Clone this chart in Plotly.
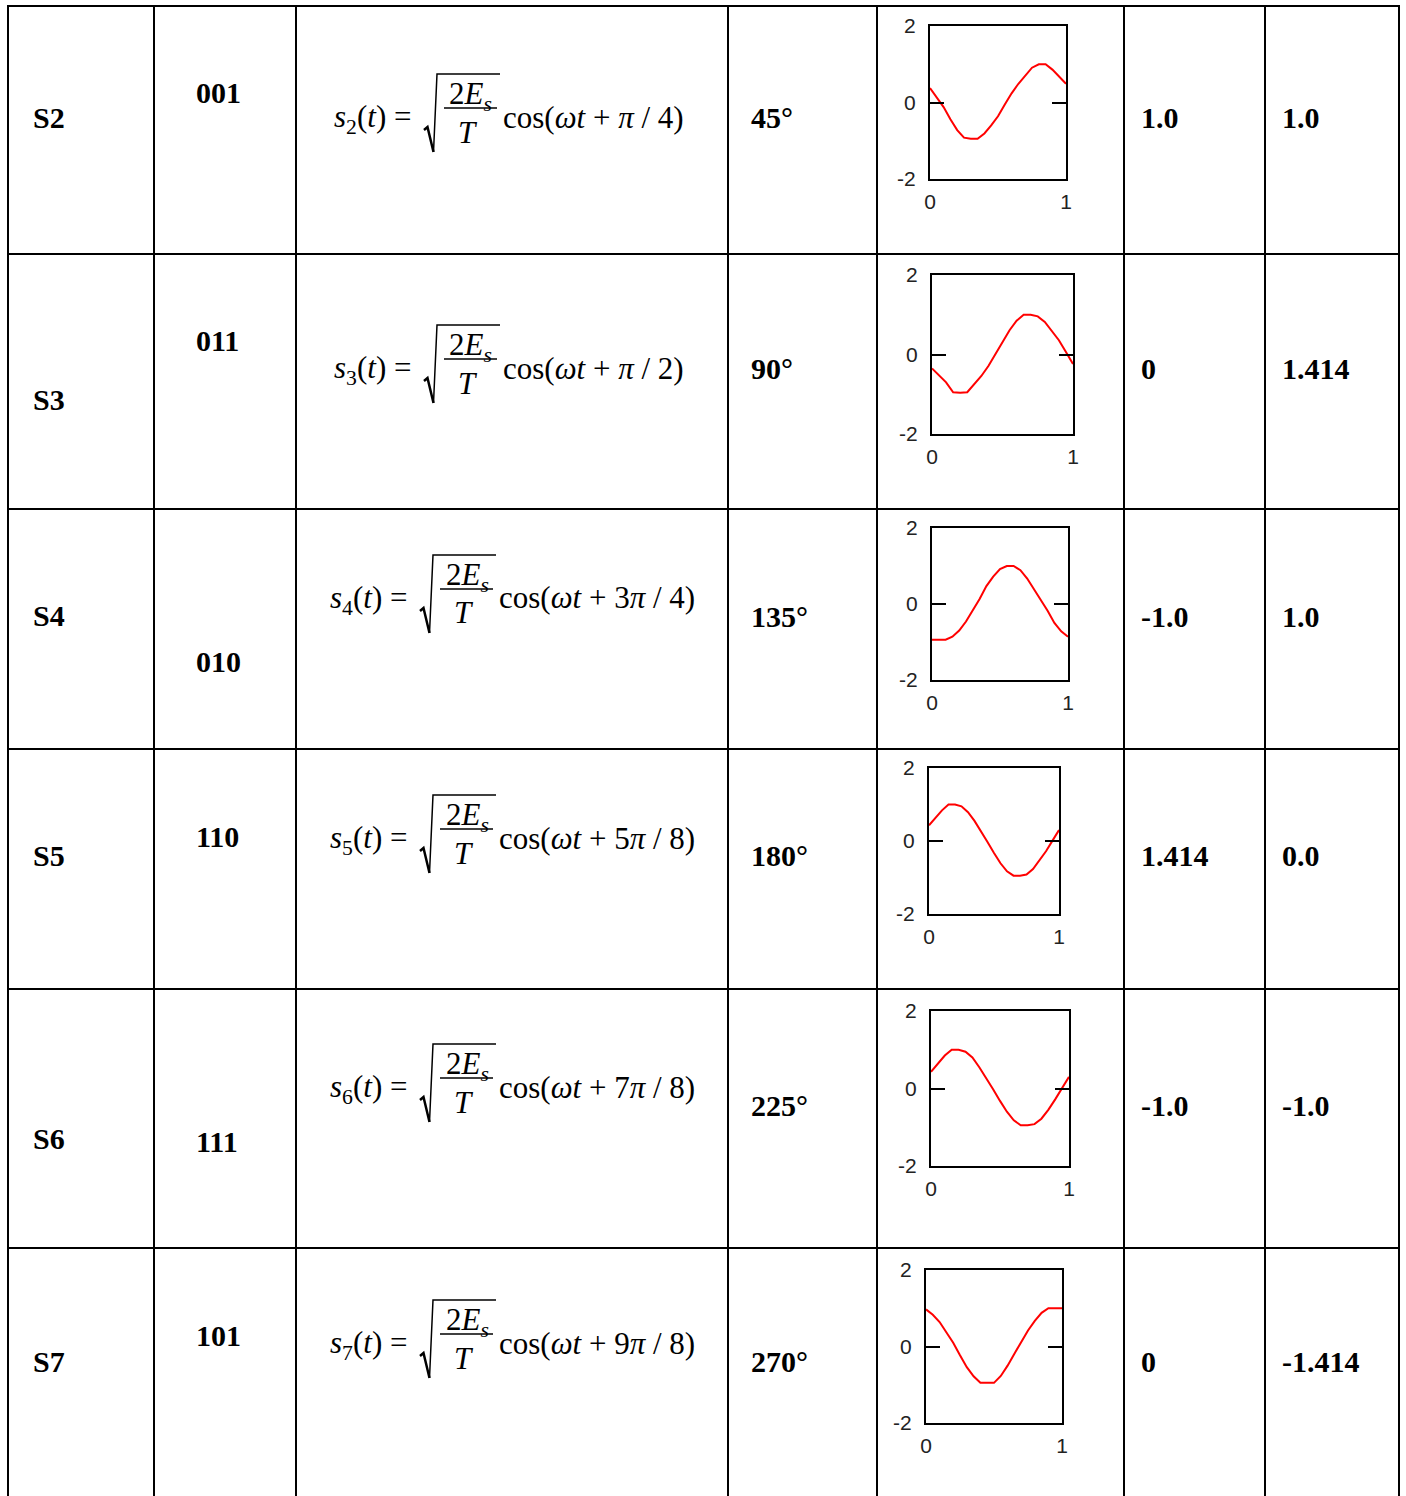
import plotly.graph_objects as go

W, H = 1406, 1496

# ---------------- data ----------------
symbols = ["S2", "S3", "S4", "S5", "S6", "S7"]
codes = ["001", "011", "010", "110", "111", "101"]
sub_idx = ["2", "3", "4", "5", "6", "7"]
phases = ["<i>π</i> / 4", "<i>π</i> / 2", "3<i>π</i> / 4", "5<i>π</i> / 8", "7<i>π</i> / 8", "9<i>π</i> / 8"]
angles = ["45°", "90°", "135°", "180°", "225°", "270°"]
i_vals = ["1.0", "0", "-1.0", "1.414", "-1.0", "0"]
q_vals = ["1.0", "1.414", "1.0", "0.0", "-1.0", "-1.414"]

t = [0.0, 0.05, 0.10, 0.15, 0.20, 0.25, 0.30, 0.35, 0.40, 0.45, 0.50,
     0.55, 0.60, 0.65, 0.70, 0.75, 0.80, 0.85, 0.90, 0.95, 1.0]
wave_s2 = [0.38, 0.14, -0.12, -0.44, -0.72, -0.92, -0.95, -0.95, -0.81, -0.6, -0.36,
           -0.05, 0.24, 0.49, 0.71, 0.91, 1.0, 1.0, 0.86, 0.67, 0.49]
wave_s3 = [-0.35, -0.52, -0.7, -0.95, -0.96, -0.95, -0.75, -0.54, -0.29, 0.0, 0.32,
           0.61, 0.85, 1.0, 1.0, 0.96, 0.82, 0.6, 0.36, 0.06, -0.24]
wave_s4 = [-0.94, -0.94, -0.94, -0.86, -0.7, -0.46, -0.16, 0.13, 0.47, 0.72, 0.92,
           1.0, 1.0, 0.89, 0.67, 0.39, 0.13, -0.18, -0.5, -0.72, -0.86]
wave_s5 = [0.43, 0.64, 0.84, 1.0, 1.0, 0.95, 0.79, 0.55, 0.27, -0.03, -0.33,
           -0.61, -0.83, -0.95, -0.95, -0.92, -0.77, -0.54, -0.28, 0.01, 0.3]
wave_s6 = [0.43, 0.65, 0.85, 1.0, 1.0, 0.95, 0.8, 0.55, 0.28, -0.02, -0.32,
           -0.6, -0.82, -0.95, -0.95, -0.92, -0.78, -0.55, -0.28, 0.02, 0.3]
wave_s7 = [0.97, 0.83, 0.64, 0.38, 0.1, -0.23, -0.54, -0.78, -0.95, -0.95, -0.95,
           -0.77, -0.5, -0.19, 0.11, 0.42, 0.67, 0.88, 1.0, 1.0, 1.0]
waves = [wave_s2, wave_s3, wave_s4, wave_s5, wave_s6, wave_s7]

y_ticks = [-2, 0, 2]
x_ticks = [0, 1]

# ---------------- layout geometry (pixels) ----------------
col_x = [8, 154, 296, 728, 877, 1124, 1265, 1399]
row_y = [6, 254, 509, 749, 989, 1248]
sym_y = [117, 400, 615, 855, 1138, 1361]
code_y = [92, 340, 661, 836, 1141, 1335]
val_y = [117, 368, 616, 856, 1105, 1361]
f_x0 = [333, 333, 329, 329, 329, 329]
f_yb = [127, 378, 608, 848, 1097, 1353]
plot_box = [(930, 1066, 26, 179), (932, 1073, 275, 434), (932, 1068, 528, 680),
            (929, 1059, 768, 914), (931, 1069, 1011, 1166), (926, 1062, 1270, 1423)]


def px(x):
    return x / W


def py(y):
    return 1 - y / H


SERIF = "Liberation Serif"
fig = go.Figure()
shapes = []
annotations = []

# table grid
for x in col_x:
    shapes.append(dict(type="line", xref="paper", yref="paper", x0=px(x), x1=px(x),
                       y0=py(row_y[0] - 1), y1=py(H + 5), line=dict(color="black", width=2)))
for y in row_y:
    shapes.append(dict(type="line", xref="paper", yref="paper", x0=px(col_x[0] - 1), x1=px(col_x[-1] + 1),
                       y0=py(y), y1=py(y), line=dict(color="black", width=2)))


def bold_text(txt, x, y):
    annotations.append(dict(text="<b>%s</b>" % txt, x=px(x - 3), y=py(y), xref="paper", yref="paper",
                            xanchor="left", yanchor="middle", showarrow=False,
                            font=dict(family=SERIF, size=30, color="black")))


for k in range(6):
    bold_text(symbols[k], 34, sym_y[k])
    bold_text(codes[k], 197, code_y[k])
    bold_text(angles[k], 752, val_y[k])
    bold_text(i_vals[k], 1142, val_y[k])
    bold_text(q_vals[k], 1283, val_y[k])

    # formula
    x0, yb = f_x0[k], f_yb[k]
    ffont = dict(family=SERIF, size=31, color="black")
    annotations.append(dict(text="<i>s</i><sub>%s</sub>(<i>t</i>) =" % sub_idx[k], x=px(x0 - 1), y=py(yb - 8),
                            xref="paper", yref="paper", xanchor="left", yanchor="middle",
                            showarrow=False, font=ffont))
    annotations.append(dict(text="2<i>E</i><sub><i>s</i></sub>", x=px(x0 + 138), y=py(yb - 31),
                            xref="paper", yref="paper", xanchor="center", yanchor="middle",
                            showarrow=False, font=ffont))
    annotations.append(dict(text="<i>T</i>", x=px(x0 + 135), y=py(yb + 5),
                            xref="paper", yref="paper", xanchor="center", yanchor="middle",
                            showarrow=False, font=ffont))
    annotations.append(dict(text="cos(<i>ωt</i> + %s)" % phases[k], x=px(x0 + 168), y=py(yb - 10),
                            xref="paper", yref="paper", xanchor="left", yanchor="middle",
                            showarrow=False, font=ffont))
    # radical
    pts = [(x0 + 91, yb + 3), (x0 + 94.5, yb), (x0 + 100.5, yb + 25)]
    path = "M " + " L ".join("%f,%f" % (px(a), py(b)) for a, b in pts)
    shapes.append(dict(type="path", xref="paper", yref="paper", path=path,
                       line=dict(color="black", width=2.5)))
    pts2 = [(x0 + 100.5, yb + 25), (x0 + 104, yb - 53), (x0 + 167, yb - 53)]
    path2 = "M " + " L ".join("%f,%f" % (px(a), py(b)) for a, b in pts2)
    shapes.append(dict(type="path", xref="paper", yref="paper", path=path2,
                       line=dict(color="black", width=1.5)))
    # fraction bar
    shapes.append(dict(type="line", xref="paper", yref="paper", x0=px(x0 + 111), x1=px(x0 + 164),
                       y0=py(yb - 19), y1=py(yb - 19), line=dict(color="black", width=1.5)))

# small plots
layout_axes = {}
tickfont = dict(family="Liberation Sans", size=21, color="#222")
for k in range(6):
    n = "" if k == 0 else str(k + 1)
    xb0, xb1, yb0, yb1 = plot_box[k]
    fig.add_trace(go.Scatter(x=t, y=waves[k], mode="lines", xaxis="x" + n, yaxis="y" + n,
                             line=dict(color="#ff0000", width=2), showlegend=False, hoverinfo="skip"))
    layout_axes["xaxis" + n] = dict(domain=[px(xb0), px(xb1)], range=[0, 1], anchor="y" + n,
                                    showline=True, linecolor="black", linewidth=2, mirror=True,
                                    ticks="", tickvals=x_ticks, ticktext=[str(v) for v in x_ticks],
                                    tickfont=tickfont, showgrid=False, zeroline=False,
                                    ticklabelstandoff=3, fixedrange=True, automargin=False)
    layout_axes["yaxis" + n] = dict(domain=[py(yb1), py(yb0)], range=[-2, 2], anchor="x" + n,
                                    showline=True, linecolor="black", linewidth=2, mirror="ticks",
                                    ticks="inside", ticklen=14, tickwidth=2, tickcolor="black",
                                    tickvals=y_ticks, ticktext=[str(v) for v in y_ticks],
                                    tickfont=tickfont, showgrid=False, zeroline=False,
                                    ticklabelstandoff=8, fixedrange=True, automargin=False)

fig.update_layout(width=W, height=H,
                  margin=dict(l=0, r=0, t=0, b=0, pad=0, autoexpand=False),
                  paper_bgcolor="white", plot_bgcolor="white",
                  shapes=shapes, annotations=annotations, **layout_axes)

fig.write_html("out.html", config={"displayModeBar": False},
               post_script="document.body.style.margin='0';document.body.style.padding='0';"
                           "document.documentElement.style.overflow='hidden';")
